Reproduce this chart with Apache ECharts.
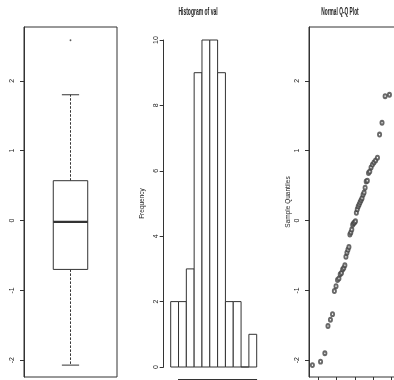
<!DOCTYPE html>
<html>
<head>
<meta charset="utf-8">
<script src="https://cdn.jsdelivr.net/npm/echarts@6/dist/echarts.min.js"></script>
<style>
  html, body { margin: 0; padding: 0; background: #fff; overflow: hidden; }
  #chart { width: 410px; height: 380px; }
</style>
</head>
<body>
<div id="chart"></div>
<script>
// tick labels
const quantTicks = [-2, -1, 0, 1, 2];
const freqTicks = [0, 2, 4, 6, 8, 10];
const histXTicks = [-2, -1, 0, 1, 2, 3];

// boxplot: lower whisker, Q1, median, Q3, upper whisker
const boxStats = [-2.07, -0.70, -0.02, 0.57, 1.80];
const boxOutliers = [2.58];

// histogram of val
const histBreaks = [-2.5, -2, -1.5, -1, -0.5, 0, 0.5, 1, 1.5, 2, 2.5, 3];
const histCounts = [2, 2, 3, 9, 10, 10, 9, 2, 2, 0, 1];

// normal Q-Q plot
const qqTheory = [-2.326, -1.881, -1.645, -1.476, -1.341, -1.227, -1.126, -1.036, -0.954, -0.878,
  -0.806, -0.739, -0.674, -0.613, -0.553, -0.496, -0.440, -0.385, -0.332, -0.279,
  -0.228, -0.176, -0.126, -0.075, -0.025, 0.025, 0.075, 0.126, 0.176, 0.228,
  0.279, 0.332, 0.385, 0.440, 0.496, 0.553, 0.613, 0.674, 0.739, 0.806,
  0.878, 0.954, 1.036, 1.126, 1.227, 1.341, 1.476, 1.645, 1.881, 2.326];
const qqSample = [-2.07, -2.02, -1.90, -1.51, -1.42, -1.34, -1.01, -0.94, -0.85, -0.83,
  -0.77, -0.75, -0.70, -0.68, -0.64, -0.52, -0.46, -0.42, -0.38, -0.20,
  -0.17, -0.13, -0.06, -0.04, -0.03, -0.01, 0.11, 0.16, 0.20, 0.23,
  0.26, 0.29, 0.32, 0.37, 0.40, 0.47, 0.56, 0.57, 0.68, 0.70,
  0.76, 0.80, 0.83, 0.86, 0.90, 1.23, 1.40, 1.78, 1.80, 2.58];

const ink = '#333';
const txt = '#222';
const font = 'Liberation Sans';

// the plot is cropped on the right, so the canvas is a bit wider than the window
const chart = echarts.init(document.getElementById('chart'));

function yAxisR(grid, ticks, margin, extra) {
  return Object.assign({
    gridIndex: grid,
    type: 'value',
    axisLine: { show: true, onZero: false, lineStyle: { color: ink, width: 1 } },
    axisTick: { show: true, length: 4, customValues: ticks, lineStyle: { color: ink } },
    axisLabel: { customValues: ticks, rotate: 90, margin: margin, fontSize: 7, color: txt, fontFamily: font },
    splitLine: { show: false },
    nameTextStyle: { fontSize: 6.5, color: txt, fontFamily: font }
  }, extra);
}

const option = {
  animation: false,
  backgroundColor: '#fff',
  grid: [
    { left: 24, top: 27, width: 93, height: 350, show: true, borderColor: ink, borderWidth: 1 },
    { left: 170.7, top: 40, width: 86, height: 327 },
    { left: 178.5, top: 377, width: 78.2, height: 2 },
    { left: 309, top: 27, width: 92, height: 350, show: true, borderColor: ink, borderWidth: 1 }
  ],
  xAxis: [
    { gridIndex: 0, type: 'value', min: 0.46, max: 1.54, show: false },
    { gridIndex: 1, type: 'value', min: -2.5, max: 3, show: false },
    { gridIndex: 2, type: 'value', min: -2, max: 3, interval: 1,
      axisLine: { onZero: false, lineStyle: { color: ink } },
      axisTick: { length: 4, customValues: histXTicks, lineStyle: { color: ink } },
      axisLabel: { show: false }, splitLine: { show: false } },
    { gridIndex: 3, type: 'value', min: -2.512, max: 2.512,
      axisLine: { show: false, onZero: false },
      axisTick: { show: true, length: 4, customValues: quantTicks, lineStyle: { color: ink } },
      axisLabel: { show: false }, splitLine: { show: false } }
  ],
  yAxis: [
    yAxisR(0, quantTicks, 8, { min: -2.24, max: 2.77 }),
    yAxisR(1, freqTicks, 4, { min: 0, max: 10, offset: 7, name: 'Frequency', nameLocation: 'middle', nameGap: 18 }),
    { gridIndex: 2, type: 'value', show: false },
    yAxisR(3, quantTicks, 8, { min: -2.24, max: 2.77, name: 'Sample Quantiles', nameLocation: 'middle', nameGap: 17 })
  ],
  graphic: [
    { type: 'text', x: 198, y: 12, scaleX: 0.5,
      style: { text: 'Histogram of val', font: 'bold 10px "Liberation Sans"', fill: txt, align: 'center', verticalAlign: 'middle' } },
    { type: 'text', x: 340, y: 12, scaleX: 0.48,
      style: { text: 'Normal Q-Q Plot', font: 'bold 10px "Liberation Sans"', fill: txt, align: 'center', verticalAlign: 'middle' } }
  ],
  series: [
    {
      type: 'custom',
      xAxisIndex: 0, yAxisIndex: 0,
      data: [[1].concat(boxStats)],
      renderItem: function (params, api) {
        const x = api.value(0);
        const lo = api.coord([x, api.value(1)]);
        const q1 = api.coord([x, api.value(2)]);
        const md = api.coord([x, api.value(3)]);
        const q3 = api.coord([x, api.value(4)]);
        const hi = api.coord([x, api.value(5)]);
        const hw = api.size([0.2, 0])[0];
        const cw = api.size([0.1, 0])[0];
        const cx = md[0];
        const solid = { stroke: ink, lineWidth: 1, fill: null };
        const dashed = { stroke: ink, lineWidth: 1, lineDash: [2.5, 1.5] };
        return {
          type: 'group',
          children: [
            { type: 'line', shape: { x1: cx, y1: q3[1], x2: cx, y2: hi[1] }, style: dashed },
            { type: 'line', shape: { x1: cx, y1: q1[1], x2: cx, y2: lo[1] }, style: dashed },
            { type: 'line', shape: { x1: cx - cw, y1: hi[1], x2: cx + cw, y2: hi[1] }, style: solid },
            { type: 'line', shape: { x1: cx - cw, y1: lo[1], x2: cx + cw, y2: lo[1] }, style: solid },
            { type: 'rect', shape: { x: cx - hw, y: q3[1], width: 2 * hw, height: q1[1] - q3[1] }, style: { stroke: ink, lineWidth: 1, fill: '#fff' } },
            { type: 'line', shape: { x1: cx - hw, y1: md[1], x2: cx + hw, y2: md[1] }, style: { stroke: ink, lineWidth: 2.2 } }
          ]
        };
      }
    },
    {
      type: 'scatter',
      xAxisIndex: 0, yAxisIndex: 0,
      symbol: 'circle', symbolSize: [1.8, 2.2],
      itemStyle: { color: ink },
      data: boxOutliers.map(v => [1, v])
    },
    {
      type: 'custom',
      xAxisIndex: 1, yAxisIndex: 1,
      data: histCounts.map((c, i) => [histBreaks[i], histBreaks[i + 1], c]),
      renderItem: function (params, api) {
        const p0 = api.coord([api.value(0), 0]);
        const p1 = api.coord([api.value(1), api.value(2)]);
        return {
          type: 'rect',
          shape: { x: p0[0], y: p1[1], width: p1[0] - p0[0], height: p0[1] - p1[1] },
          style: { stroke: ink, lineWidth: 1, fill: '#fff' }
        };
      }
    },
    {
      type: 'scatter',
      xAxisIndex: 3, yAxisIndex: 3,
      symbol: 'emptyCircle', symbolSize: [3.2, 3.8],
      itemStyle: { color: '#444', borderColor: '#444', borderWidth: 0.6 },
      data: qqTheory.map((q, i) => [q, qqSample[i]])
    }
  ]
};

chart.setOption(option);
</script>
</body>
</html>
